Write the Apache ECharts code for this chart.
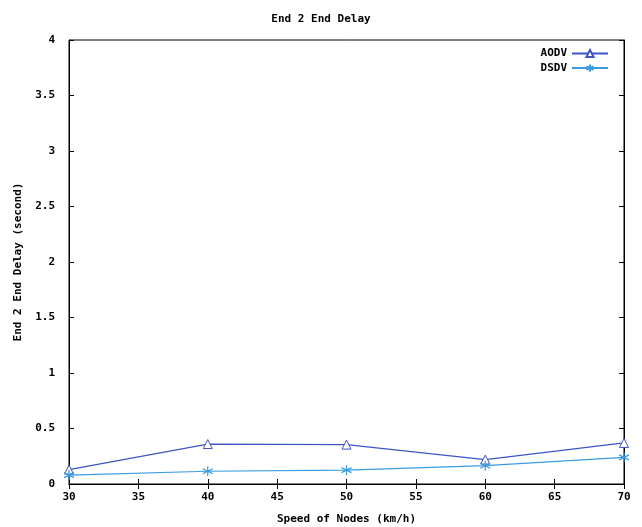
<!DOCTYPE html>
<html>
<head>
<meta charset="utf-8">
<script src="https://cdn.jsdelivr.net/npm/echarts@6/dist/echarts.min.js"></script>
<style>
  html, body { margin: 0; padding: 0; background: #fff; }
  #chart { width: 642px; height: 527px; }
</style>
</head>
<body>
<div id="chart"></div>
<script>
// speed of nodes (km/h)
const speeds = [30, 40, 50, 60, 70]
// end to end delay (second)
const aodv = [0.13, 0.36, 0.355, 0.22, 0.37]
const dsdv = [0.08, 0.115, 0.125, 0.165, 0.24]

const font = 'DejaVu Sans Mono'
const star = 'path://M0,-5L0,5M-4.5,-2.5L4.5,2.5M-4.5,2.5L4.5,-2.5'

const myChart = echarts.init(document.getElementById('chart'))

const tickStyle = { inside: true, length: 5, lineStyle: { color: '#000' } }
const textStyle = { fontFamily: font, fontSize: 11, fontWeight: 'bold', color: '#000' }

const option = {
  animation: false,
  title: {
    text: 'End 2 End Delay',
    left: 'center',
    top: 9,
    textStyle: textStyle
  },
  legend: {
    orient: 'vertical',
    right: 28,
    top: 43,
    align: 'right',
    itemGap: 3,
    itemWidth: 36,
    itemHeight: 9,
    textStyle: textStyle,
    data: ['AODV', 'DSDV']
  },
  grid: {
    left: 69,
    right: 18,
    top: 40,
    bottom: 43,
    outerBoundsMode: 'none',
    show: true,
    borderColor: '#000',
    borderWidth: 1
  },
  xAxis: [
    {
      type: 'value',
      min: 30,
      max: 70,
      interval: 5,
      name: 'Speed of Nodes (km/h)',
      nameLocation: 'middle',
      nameGap: 30,
      nameTextStyle: textStyle,
      axisLine: { lineStyle: { color: '#000' } },
      axisTick: tickStyle,
      splitLine: { show: false },
      axisLabel: { ...textStyle, margin: 8 }
    },
    {
      type: 'value',
      position: 'top',
      min: 30,
      max: 70,
      interval: 5,
      axisLine: { lineStyle: { color: '#000' } },
      axisTick: tickStyle,
      splitLine: { show: false },
      axisLabel: { show: false }
    }
  ],
  yAxis: [
    {
      type: 'value',
      min: 0,
      max: 4,
      interval: 0.5,
      name: 'End 2 End Delay (second)',
      nameLocation: 'middle',
      nameGap: 45,
      nameTextStyle: textStyle,
      axisLine: { show: true, lineStyle: { color: '#000' } },
      axisTick: { show: true, ...tickStyle },
      splitLine: { show: false },
      axisLabel: { ...textStyle, margin: 14 }
    },
    {
      type: 'value',
      position: 'right',
      min: 0,
      max: 4,
      interval: 0.5,
      axisLine: { show: true, lineStyle: { color: '#000' } },
      axisTick: { show: true, ...tickStyle },
      splitLine: { show: false },
      axisLabel: { show: false }
    }
  ],
  series: [
    {
      name: 'AODV',
      type: 'line',
      data: speeds.map((s, i) => [s, aodv[i]]),
      symbol: 'triangle',
      symbolSize: 9,
      lineStyle: { width: 1.2, color: '#3d55c4' },
      itemStyle: { color: '#fff', borderColor: '#3d55c4', borderWidth: 1 }
    },
    {
      name: 'DSDV',
      type: 'line',
      data: speeds.map((s, i) => [s, dsdv[i]]),
      symbol: star,
      symbolSize: 10,
      lineStyle: { width: 1.2, color: '#3a9be0' },
      itemStyle: { color: 'none', borderColor: '#3a9be0', borderWidth: 1.2 }
    }
  ]
}

myChart.setOption(option)
</script>
</body>
</html>
